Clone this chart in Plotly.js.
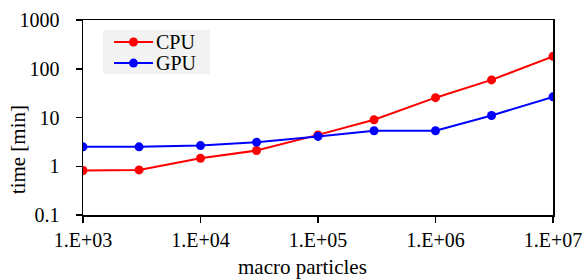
<!DOCTYPE html>
<html>
<head>
<meta charset="utf-8">
<script src="https://cdn.plot.ly/plotly-3.0.1.min.js"></script>
<style>html,body{margin:0;padding:0;background:#fff;}#chart{width:586px;height:279px;}</style>
</head>
<body>
<div id="chart"></div>
<script>
const particles = [1e3, 3e3, 1e4, 3e4, 1e5, 3e5, 1e6, 3e6, 1e7];
const cpuTime = [0.82, 0.84, 1.46, 2.1, 4.4, 9.0, 25.5, 59, 180];
const gpuTime = [2.5, 2.5, 2.65, 3.1, 4.1, 5.35, 5.35, 11, 26.5];
const seriesNames = ['CPU', 'GPU'];
const seriesColors = ['#ff0000', '#0000ff'];
const xTickVals = [1e3, 1e4, 1e5, 1e6, 1e7];
const xTickText = ['1.E+03', '1.E+04', '1.E+05', '1.E+06', '1.E+07'];
const yTickVals = [0.1, 1, 10, 100, 1000];
const yTickText = ['0.1', '1', '10', '100', '1000'];
const xTitle = 'macro particles';
const yTitle = 'time [min]';

const font = {family: 'Liberation Serif, Times New Roman, serif', size: 20, color: '#000'};
const titleFont = {family: 'Liberation Serif, Times New Roman, serif', size: 21, color: '#000'};

const traces = [
  {x: particles, y: cpuTime, name: seriesNames[0], mode: 'lines+markers',
   line: {color: seriesColors[0], width: 2}, marker: {color: seriesColors[0], size: 9}},
  {x: particles, y: gpuTime, name: seriesNames[1], mode: 'lines+markers',
   line: {color: seriesColors[1], width: 2}, marker: {color: seriesColors[1], size: 9}}
];

// hand-drawn legend (Excel style, tight spacing)
const legX0 = 0.0426, legX1 = 0.270, legY0 = 0.723, legY1 = 0.949;
const rowY = [0.887, 0.779];
const shapes = [{type: 'rect', xref: 'paper', yref: 'paper', x0: legX0, x1: legX1, y0: legY0, y1: legY1,
                 fillcolor: '#f3f3f3', line: {width: 0}, layer: 'below'}];
const annotations = [];
seriesNames.forEach((n, i) => {
  shapes.push({type: 'line', xref: 'paper', yref: 'paper', x0: 0.066, x1: 0.149, y0: rowY[i], y1: rowY[i],
               line: {color: seriesColors[i], width: 2}});
  shapes.push({type: 'circle', xref: 'paper', yref: 'paper', xsizemode: 'pixel', ysizemode: 'pixel',
               xanchor: 0.1074, yanchor: rowY[i], x0: -4.5, x1: 4.5, y0: -4.5, y1: 4.5,
               fillcolor: seriesColors[i], line: {width: 0}});
  annotations.push({xref: 'paper', yref: 'paper', x: 0.151, y: rowY[i], xanchor: 'left', yanchor: 'middle',
                    text: n, showarrow: false, font: font});
});
// axis titles (placed as in the Excel original, off-centre)
annotations.push({xref: 'paper', yref: 'paper', x: 0.467, y: -0.267, xanchor: 'center', yanchor: 'middle',
                  text: xTitle, showarrow: false, font: titleFont});
annotations.push({xref: 'paper', yref: 'paper', x: -0.138, y: 0.333, xanchor: 'center', yanchor: 'middle',
                  text: yTitle, showarrow: false, font: titleFont, textangle: -90});

const layout = {
  width: 586, height: 279,
  margin: {l: 83, r: 33, t: 20, b: 64},
  paper_bgcolor: '#fff', plot_bgcolor: '#fff',
  font: font,
  showlegend: false,
  shapes: shapes,
  annotations: annotations,
  xaxis: {type: 'log', range: [3, 7], tickvals: xTickVals, ticktext: xTickText,
          showgrid: false, zeroline: false, showline: true, linecolor: '#000', linewidth: 1.5,
          mirror: true, ticks: 'outside', ticklen: 6, tickwidth: 1.5, tickcolor: '#000',
          tickfont: font},
  yaxis: {type: 'log', range: [-1, 3], tickvals: yTickVals, ticktext: yTickText,
          showgrid: false, zeroline: false, showline: true, linecolor: '#000', linewidth: 1.5,
          mirror: true, ticks: 'outside', ticklen: 6, tickwidth: 1.5, tickcolor: '#000',
          ticklabelstandoff: 12, tickfont: font}
};

Plotly.newPlot('chart', traces, layout, {displayModeBar: false, staticPlot: true});
</script>
</body>
</html>
